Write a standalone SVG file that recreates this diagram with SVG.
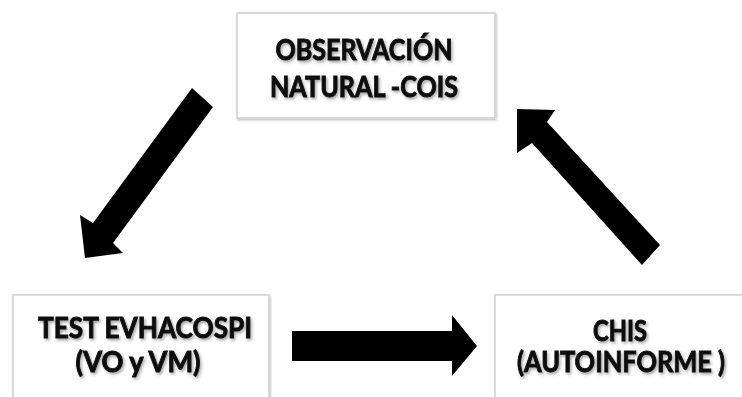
<svg xmlns="http://www.w3.org/2000/svg" width="742" height="397" viewBox="0 0 742 397">
<defs>
<filter id="ts" x="-10%" y="-30%" width="120%" height="160%">
<feDropShadow dx="1.5" dy="2" stdDeviation="1.5" flood-color="#000" flood-opacity="0.35"/>
</filter>
<filter id="bs" x="-5%" y="-5%" width="110%" height="115%">
<feDropShadow dx="1" dy="1.5" stdDeviation="1" flood-color="#000" flood-opacity="0.25"/>
</filter>
</defs>
<style>
.box{fill:#fff;stroke:#cfcfcf;stroke-width:1.5;}
.t{font-family:Lato,"Liberation Sans",sans-serif;font-weight:bold;font-size:28px;fill:#111;stroke:#111;stroke-width:0.9;text-anchor:middle;}
.arr{fill:#000;}
</style>
<rect width="742" height="397" fill="#fff"/>
<g id="node-observacion">
<rect class="box" x="237" y="13" width="258" height="105" filter="url(#bs)"/>
<g filter="url(#ts)">
<text class="t" x="364" y="60" textLength="177" lengthAdjust="spacingAndGlyphs">OBSERVACIÓN</text>
<text class="t" x="364" y="97" textLength="188" lengthAdjust="spacingAndGlyphs">NATURAL -COIS</text>
</g>
</g>
<g id="node-test">
<rect class="box" x="13" y="295" width="256" height="120" filter="url(#bs)"/>
<g filter="url(#ts)">
<text class="t" x="145" y="338" textLength="214" lengthAdjust="spacingAndGlyphs">TEST EVHACOSPI</text>
<text class="t" x="138" y="372" textLength="125" lengthAdjust="spacingAndGlyphs">(VO y VM)</text>
</g>
</g>
<g id="node-chis">
<rect class="box" x="495" y="295" width="260" height="120" filter="url(#bs)"/>
<g filter="url(#ts)">
<text class="t" x="620" y="341" textLength="54" lengthAdjust="spacingAndGlyphs">CHIS</text>
<text class="t" x="621" y="372" textLength="208" lengthAdjust="spacingAndGlyphs">(AUTOINFORME )</text>
</g>
</g>
<g id="connectors">
<polygon class="arr" points="192,88 93,223 80,215 85,258 123,253 113,243 213,107"/>
<polygon class="arr" points="292,331 452,331 452,315 477,346 452,376 452,361 292,361"/>
<polygon class="arr" points="517,109 555,110 547,122 660,245 642,265 532,143 517,153"/>
</g>
</svg>
